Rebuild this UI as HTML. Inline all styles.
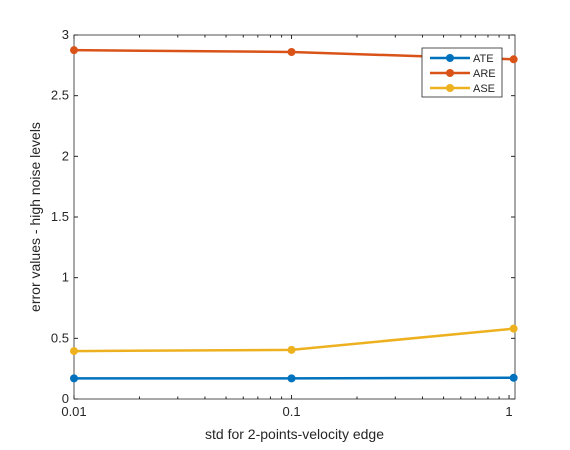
<!DOCTYPE html>
<html><head><meta charset="utf-8"><style>
body{margin:0;background:#fff;}
svg{display:block;font-family:"Liberation Sans",sans-serif;}
</style></head><body>
<svg id="chart" width="570" height="450">
<rect width="570" height="450" fill="#fff"/>
<g id="grid"></g>
<g id="series"></g>
<g id="legend"></g>
</svg>
<script>
const xValues=[0.01,0.1,1.05];
const ateValues=[0.17,0.17,0.175];
const areValues=[2.875,2.86,2.80];
const aseValues=[0.395,0.405,0.58];
const yTicks=[0,0.5,1,1.5,2,2.5,3];
const yTickLabels=["0","0.5","1","1.5","2","2.5","3"];
const xTicks=[0.01,0.1,1];
const xTickLabels=["0.01","0.1","1"];
const seriesNames=["ATE","ARE","ASE"];
const colors=["#0072BD","#D95319","#EDB120"];

const L=74,R=515,T=35,B=399;
const xMin=Math.log10(0.01),xMax=Math.log10(1.065);
const X=v=>L+(Math.log10(v)-xMin)/(xMax-xMin)*(R-L);
const Y=v=>B-(v/3)*(B-T);
const NS="http://www.w3.org/2000/svg";
function mk(tag,attrs,parent){const e=document.createElementNS(NS,tag);for(const k in attrs)e.setAttribute(k,attrs[k]);parent.appendChild(e);return e;}
const g=document.getElementById('grid');
let box=mk('rect',{x:L,y:T,width:R-L,height:B-T,fill:'none',stroke:'#262626','stroke-width':0.8},g);


yTicks.forEach((v,i)=>{
  mk('line',{x1:L,x2:L+4,y1:Y(v),y2:Y(v),stroke:'#262626'},g);
  mk('line',{x1:R,x2:R-4,y1:Y(v),y2:Y(v),stroke:'#262626'},g);
  const t=mk('text',{x:L-5,y:Y(v)+4,'text-anchor':'end','font-size':13,fill:'#262626'},g);
  t.textContent=yTickLabels[i];
  
  
});
for(let d=-2;d<=0;d++){for(let m=1;m<=9;m++){const v=m*Math.pow(10,d);if(v>1.065)continue;const len=m===1?4:2.5;
  mk('line',{x1:X(v),x2:X(v),y1:B,y2:B-len,stroke:'#262626'},g);
  mk('line',{x1:X(v),x2:X(v),y1:T,y2:T+len,stroke:'#262626'},g);}}
xTicks.forEach((v,i)=>{
  const t=mk('text',{x:X(v),y:B+17,'text-anchor':'middle','font-size':13,fill:'#262626'},g);
  t.textContent=xTickLabels[i];
  
  
});
let xt=mk('text',{x:(L+R)/2,y:439,'text-anchor':'middle','font-size':14,fill:'#262626'},g);
xt.textContent='std for 2-points-velocity edge';


let yt=mk('text',{x:0,y:0,'text-anchor':'middle','font-size':14,fill:'#262626',transform:`translate(40,${(T+B)/2}) rotate(-90)`},g);
yt.textContent='error values - high noise levels';



const sg=document.getElementById('series');
[ateValues,areValues,aseValues].forEach((vals,si)=>{
  const pts=vals.map((v,i)=>X(xValues[i])+','+Y(v)).join(' ');
  const pl=mk('polyline',{points:pts,fill:'none',stroke:colors[si],'stroke-width':2.5},sg);
  
  
  vals.forEach((v,i)=>{
    const c=mk('circle',{cx:X(xValues[i]),cy:Y(v),r:4,fill:colors[si]},sg);
    
    
  });
});

const lg=document.getElementById('legend');
const lb=mk('rect',{x:422,y:48,width:80,height:49,fill:'#fff',stroke:'#262626','stroke-width':0.8},lg);


seriesNames.forEach((n,i)=>{
  const y=58+i*15;
  mk('line',{x1:430,x2:470,y1:y,y2:y,stroke:colors[i],'stroke-width':2.5},lg);
  mk('circle',{cx:450,cy:y,r:4,fill:colors[i]},lg);
  const t=mk('text',{x:473,y:y+4,'font-size':11,fill:'#262626'},lg);
  t.textContent=n;
  
  
});
</script>
</body></html>
